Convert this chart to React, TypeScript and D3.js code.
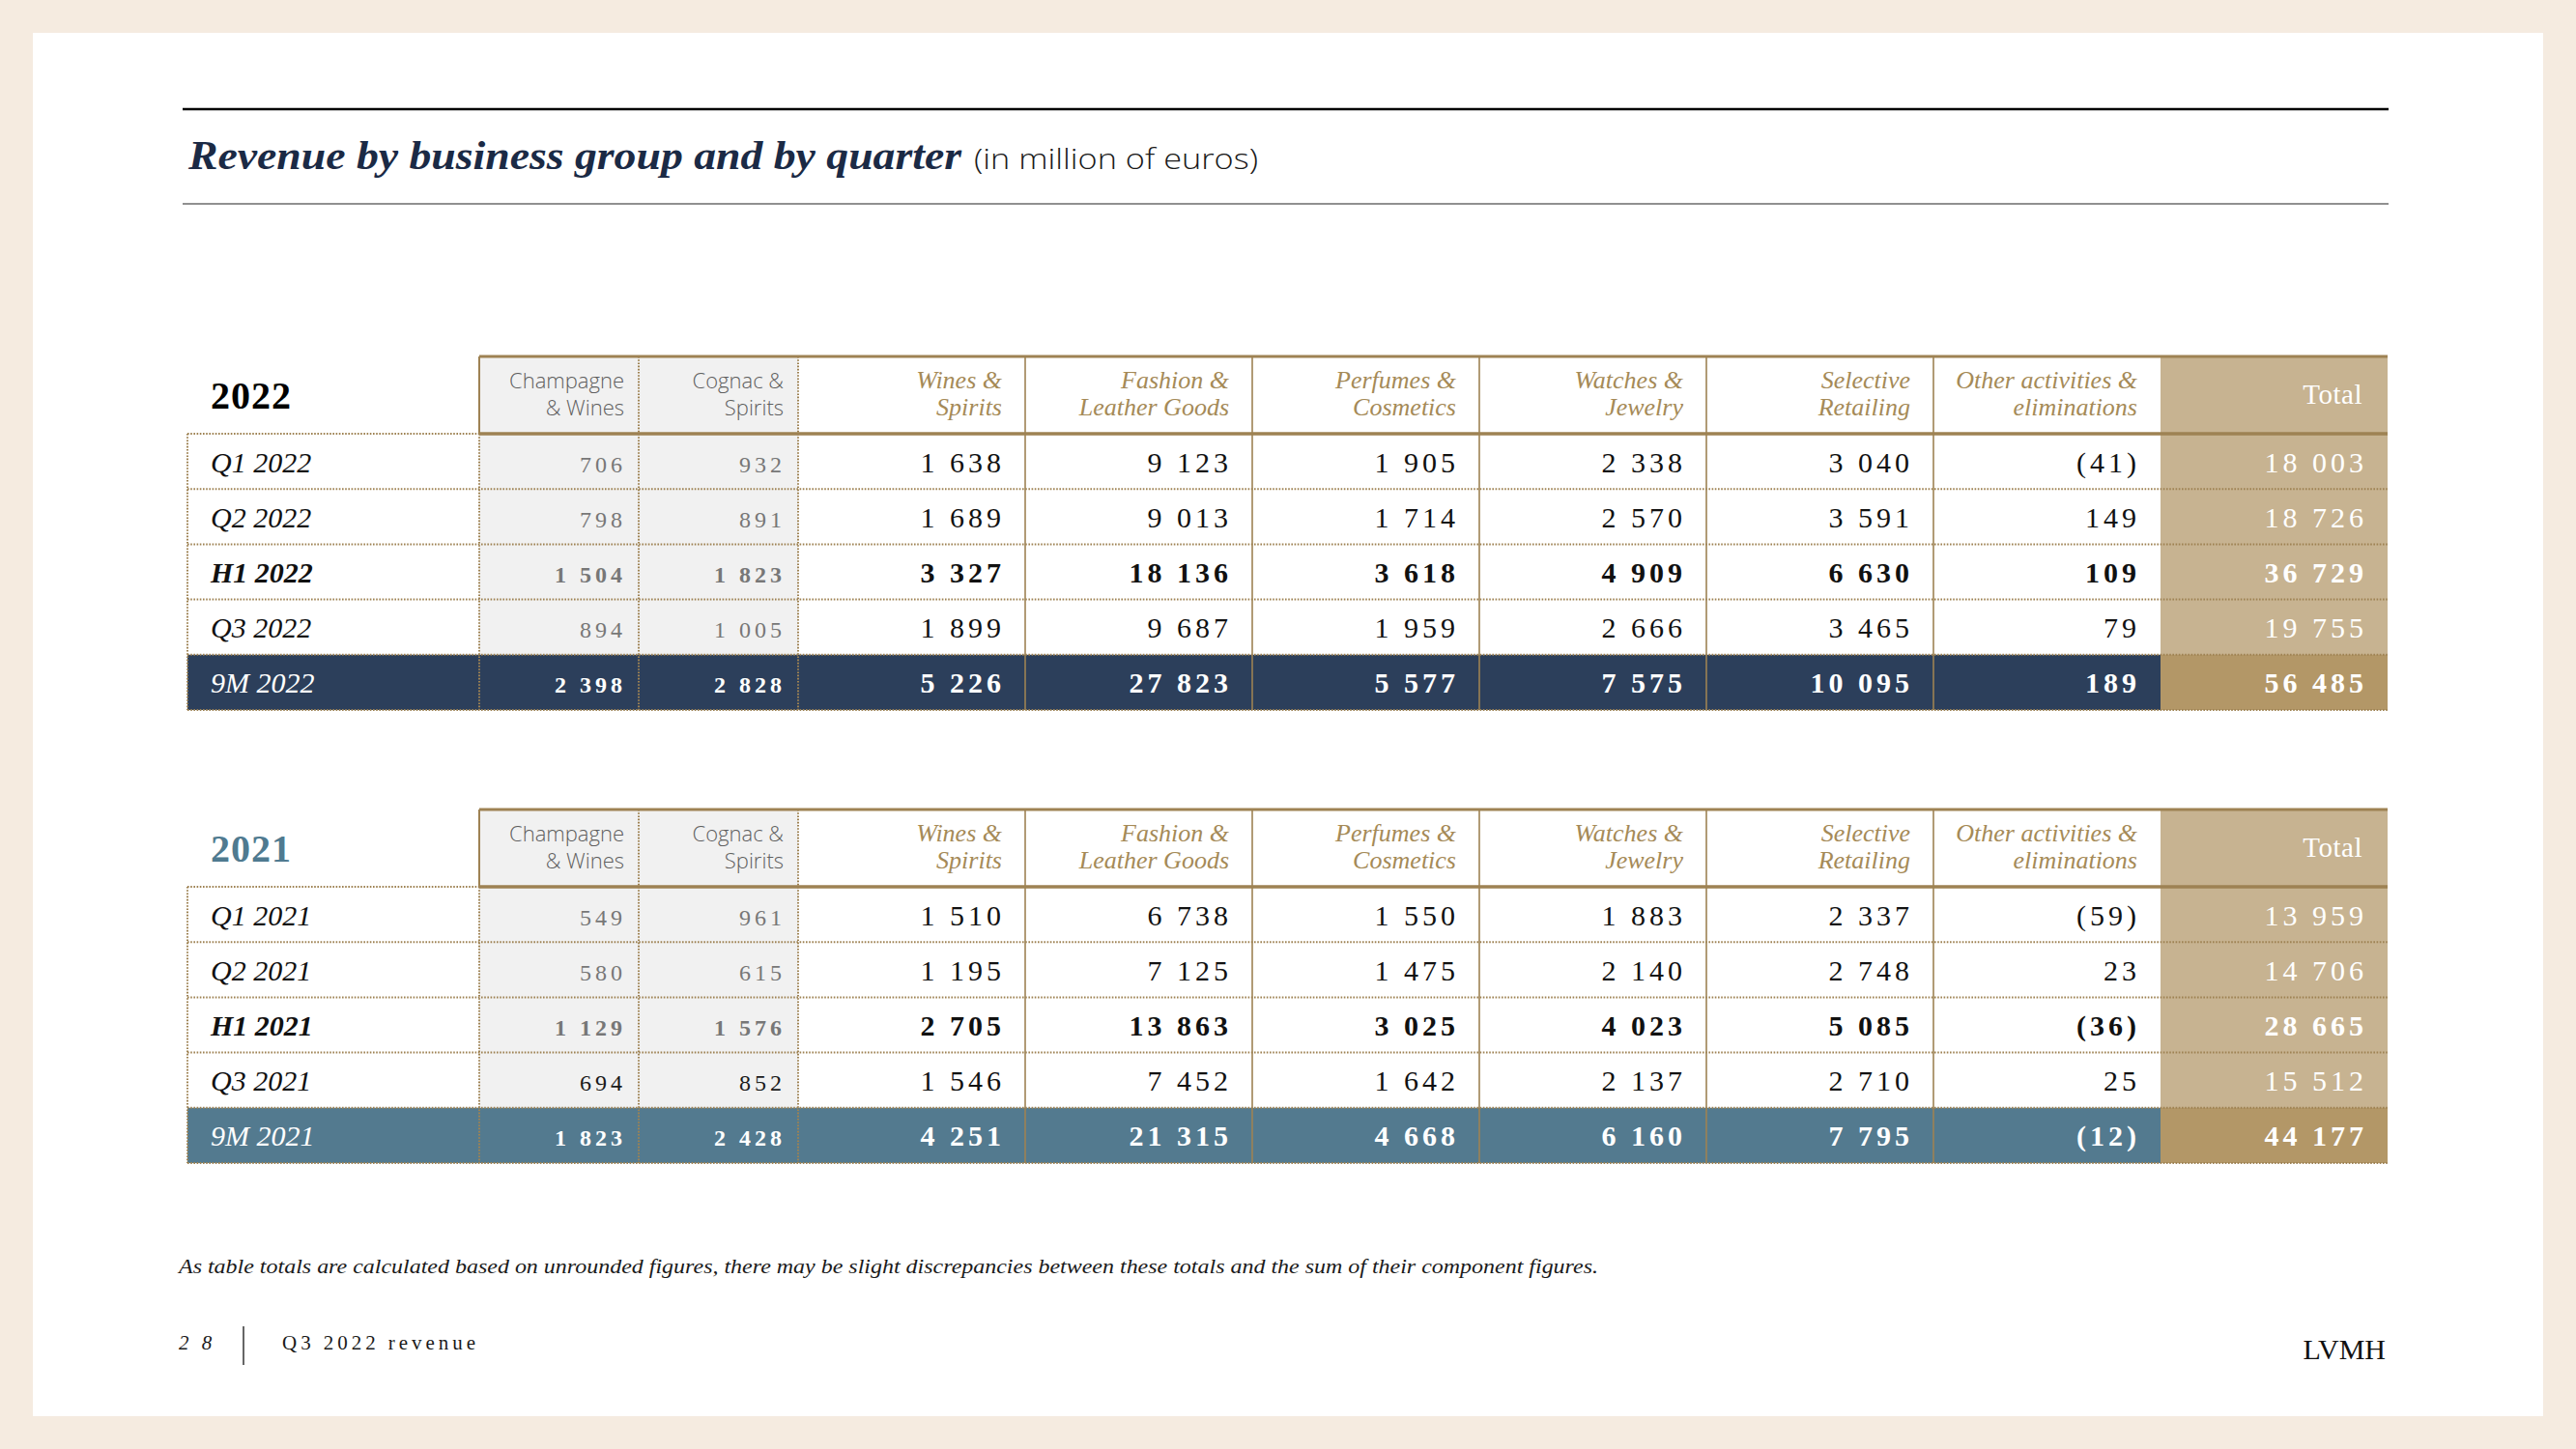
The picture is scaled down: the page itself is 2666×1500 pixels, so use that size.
import React from "react";
import * as d3 from "d3";

// ---------- DATA ----------
const columnHeaders: string[][] = [
  ["Champagne", "& Wines"],
  ["Cognac &", "Spirits"],
  ["Wines &", "Spirits"],
  ["Fashion &", "Leather Goods"],
  ["Perfumes &", "Cosmetics"],
  ["Watches &", "Jewelry"],
  ["Selective", "Retailing"],
  ["Other activities &", "eliminations"],
  ["Total"],
];

const rowLabels2022 = ["Q1 2022", "Q2 2022", "H1 2022", "Q3 2022", "9M 2022"];
const q1_2022 = [706, 932, 1638, 9123, 1905, 2338, 3040, -41, 18003];
const q2_2022 = [798, 891, 1689, 9013, 1714, 2570, 3591, 149, 18726];
const h1_2022 = [1504, 1823, 3327, 18136, 3618, 4909, 6630, 109, 36729];
const q3_2022 = [894, 1005, 1899, 9687, 1959, 2666, 3465, 79, 19755];
const m9_2022 = [2398, 2828, 5226, 27823, 5577, 7575, 10095, 189, 56485];

const rowLabels2021 = ["Q1 2021", "Q2 2021", "H1 2021", "Q3 2021", "9M 2021"];
const q1_2021 = [549, 961, 1510, 6738, 1550, 1883, 2337, -59, 13959];
const q2_2021 = [580, 615, 1195, 7125, 1475, 2140, 2748, 23, 14706];
const h1_2021 = [1129, 1576, 2705, 13863, 3025, 4023, 5085, -36, 28665];
const q3_2021 = [694, 852, 1546, 7452, 1642, 2137, 2710, 25, 15512];
const m9_2021 = [1823, 2428, 4251, 21315, 4668, 6160, 7795, -12, 44177];

const titleText = "Revenue by business group and by quarter";
const subtitleText = "(in million of euros)";
const footnoteText =
  "As table totals are calculated based on unrounded figures, there may be slight discrepancies between these totals and the sum of their component figures.";

// ---------- STYLE ----------
const W = 2666;
const H = 1500;
const GOLD = "#9E8253";
const GOLD_TEXT = "#A58A57";
const GRAY_BG = "#F1F1F1";
const TAN = "#C7B391";
const TAN_DARK = "#B39767";
const NAVY = "#2C3F5B";
const STEEL = "#537A8F";
const SERIF = "'Liberation Serif', 'DejaVu Serif', serif";
const SANS = "'Open Sans', 'Noto Sans', sans-serif";

const locale = d3.formatLocale({ decimal: ".", thousands: " ", grouping: [3], currency: ["", ""] });
const f0 = locale.format(",d");
const fmt = (v: number) => (v < 0 ? `(${f0(-v)})` : f0(v));

const colWidths = [302, 165, 165, 235, 235, 235, 235, 235, 235, 235];
const X0 = 194;
const colEdges = [X0, ...Array.from(d3.cumsum(colWidths), (c) => X0 + c)];

interface TableProps {
  year: string;
  yearColor: string;
  labels: string[];
  rows: number[][];
  top: number;
  summaryColor: string;
  darkGrayRows?: number[];
}

function Table({ year, yearColor, labels, rows, top, summaryColor, darkGrayRows = [] }: TableProps) {
  const headerTop = top;
  const headerBottom = top + 80;
  const bottom = headerBottom + 286;
  const y = d3.scaleBand<string>().domain(labels).range([headerBottom, bottom]);
  const bw = y.bandwidth();
  const xEnd = colEdges[colEdges.length - 1];
  const totalLeft = colEdges[9];
  const lastLabel = labels[labels.length - 1];
  const lastY = y(lastLabel)!;
  const dot = { stroke: GOLD, strokeWidth: 2, strokeDasharray: "1.6 1.6", fill: "none" };

  return (
    <g>
      {[1, 2].map((ci) => (
        <rect key={"g" + ci} x={colEdges[ci]} y={headerTop} width={colWidths[ci]} height={lastY - headerTop} fill={GRAY_BG} />
      ))}
      <rect x={totalLeft} y={headerTop} width={xEnd - totalLeft} height={bottom - headerTop} fill={TAN} />
      <rect x={X0} y={lastY} width={totalLeft - X0} height={bw} fill={summaryColor} />
      <rect x={totalLeft} y={lastY} width={xEnd - totalLeft} height={bw} fill={TAN_DARK} />

      <line x1={X0} x2={colEdges[1]} y1={headerBottom} y2={headerBottom} {...dot} />
      {labels.slice(1).map((l) => (
        <line key={"h" + l} x1={X0} x2={xEnd} y1={y(l)!} y2={y(l)!} {...dot} />
      ))}
      <line x1={X0} x2={xEnd} y1={bottom} y2={bottom} {...dot} />
      <line x1={X0} x2={X0} y1={headerBottom} y2={bottom} {...dot} />
      <line x1={colEdges[1]} x2={colEdges[1]} y1={headerBottom} y2={bottom} {...dot} />
      <line x1={colEdges[2]} x2={colEdges[2]} y1={headerTop} y2={bottom} {...dot} />
      <line x1={colEdges[3]} x2={colEdges[3]} y1={headerTop} y2={bottom} {...dot} />
      <line x1={colEdges[1]} x2={colEdges[1]} y1={headerTop} y2={headerBottom} stroke={GOLD} strokeWidth={2} />
      {[4, 5, 6, 7, 8].map((ci) => (
        <line key={"v" + ci} x1={colEdges[ci]} x2={colEdges[ci]} y1={headerTop} y2={bottom} stroke={GOLD} strokeWidth={1.6} />
      ))}
      <line x1={colEdges[1]} x2={xEnd} y1={headerTop} y2={headerTop} stroke={GOLD} strokeWidth={3} />
      <line x1={colEdges[1]} x2={xEnd} y1={headerBottom} y2={headerBottom} stroke={GOLD} strokeWidth={3.5} />

      <text x={218} y={headerTop + 54} fontFamily={SERIF} fontWeight={700} fontSize={40} fill={yearColor} letterSpacing={1}>
        {year}
      </text>

      {columnHeaders.map((lines, ci) => {
        const right = colEdges[ci + 2];
        if (ci < 2) {
          return (
            <text key={"ch" + ci} textAnchor="end" fontFamily={SANS} fontWeight={300} fontSize={22} fill="#5f5f5f">
              {lines.map((ln, li) => (
                <tspan key={li} x={right - 15} y={headerTop + 33 + li * 28}>
                  {ln}
                </tspan>
              ))}
            </text>
          );
        }
        if (ci === 8) {
          return (
            <text key={"ch" + ci} x={right - 26} y={headerTop + 49} textAnchor="end" fontFamily={SERIF} fontSize={29} fill="#ffffff" letterSpacing={0.5}>
              {lines[0]}
            </text>
          );
        }
        return (
          <text key={"ch" + ci} textAnchor="end" fontFamily={SERIF} fontStyle="italic" fontSize={26} fill={GOLD_TEXT}>
            {lines.map((ln, li) => (
              <tspan key={li} x={right - 24} y={headerTop + 33 + li * 28}>
                {ln}
              </tspan>
            ))}
          </text>
        );
      })}

      {labels.map((lab, ri) => {
        const yy = y(lab)! + bw / 2 + 11;
        const isSum = ri === labels.length - 1;
        const isBold = ri === 2;
        return (
          <g key={"r" + lab}>
            <text x={218} y={yy} fontFamily={SERIF} fontStyle="italic" fontWeight={isBold ? 700 : 400} fontSize={30} fill={isSum ? "#ffffff" : "#111"}>
              {lab}
            </text>
            {rows[ri].map((v, ci) => {
              const right = colEdges[ci + 2];
              const small = ci < 2;
              let color = small ? (darkGrayRows.includes(ri) ? "#1a1a1a" : "#777777") : "#111";
              if (isSum || ci === 8) color = "#ffffff";
              return (
                <text
                  key={"c" + ci}
                  x={right - (small ? 13 : 21)}
                  y={yy}
                  textAnchor="end"
                  fontFamily={SERIF}
                  fontSize={small ? 24 : 30}
                  fontWeight={isBold || isSum ? 700 : 400}
                  letterSpacing={4}
                  fill={color}
                >
                  {fmt(v)}
                </text>
              );
            })}
          </g>
        );
      })}
    </g>
  );
}

export default function App() {
  return (
    <svg
      width={W}
      height={H}
      viewBox={`0 0 ${W} ${H}`}
      style={{ position: "absolute", left: 0, top: 0, display: "block" }}
    >
      <rect x={0} y={0} width={W} height={H} fill="#F5EBE0" />
      <rect x={34} y={34} width={2598} height={1432} fill="#ffffff" />

      <line x1={189} x2={2472} y1={113} y2={113} stroke="#000" strokeWidth={2.5} />
      <line x1={189} x2={2472} y1={211} y2={211} stroke="#222" strokeWidth={1.2} />

      <text x={195} y={175} fontFamily={SERIF} fontStyle="italic" fontWeight={700} fontSize={43} fill="#1B2A45" textLength={800} lengthAdjust="spacingAndGlyphs">
        {titleText}
      </text>
      <text x={1008} y={175} fontFamily={SANS} fontWeight={300} fontSize={29} fill="#1a1a1a" textLength={294} lengthAdjust="spacingAndGlyphs">
        {subtitleText}
      </text>

      <Table year="2022" yearColor="#000" labels={rowLabels2022} rows={[q1_2022, q2_2022, h1_2022, q3_2022, m9_2022]} top={369} summaryColor={NAVY} />
      <Table
        year="2021"
        yearColor="#4F7A90"
        labels={rowLabels2021}
        rows={[q1_2021, q2_2021, h1_2021, q3_2021, m9_2021]}
        top={838}
        summaryColor={STEEL}
        darkGrayRows={[3]}
      />

      <text x={185} y={1318} fontFamily={SERIF} fontStyle="italic" fontSize={22} fill="#1a1a1a" textLength={1469} lengthAdjust="spacingAndGlyphs">
        {footnoteText}
      </text>

      <text x={185} y={1397} fontFamily={SERIF} fontStyle="italic" fontSize={21} fill="#1a1a1a" letterSpacing={4}>
        2 8
      </text>
      <line x1={252} x2={252} y1={1373} y2={1413} stroke="#333" strokeWidth={1.5} />
      <text x={292} y={1397} fontFamily={SERIF} fontSize={21} fill="#1a1a1a" textLength={200} lengthAdjust="spacing">
        Q3 2022 revenue
      </text>
      <text x={2469} y={1407} textAnchor="end" fontFamily={SERIF} fontSize={30} fill="#111">
        LVMH
      </text>
    </svg>
  );
}
